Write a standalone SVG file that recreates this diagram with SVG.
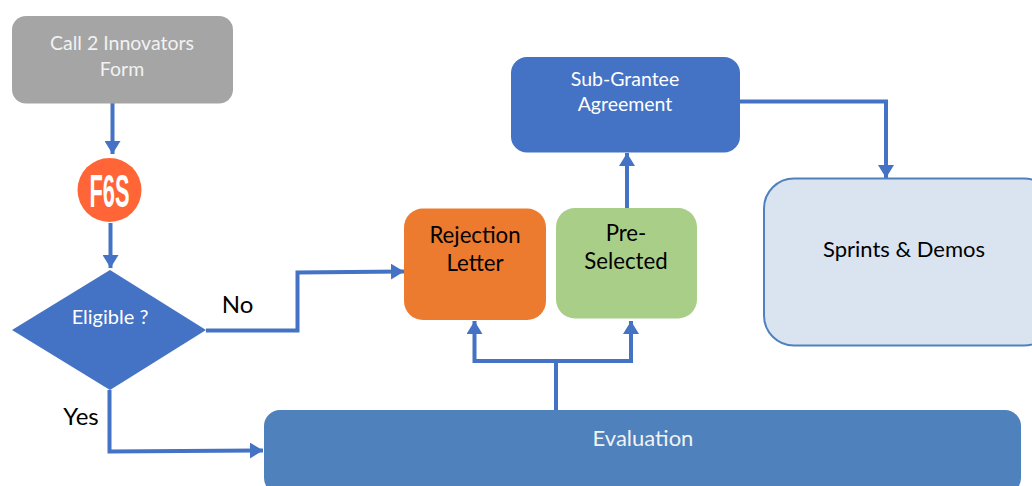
<svg xmlns="http://www.w3.org/2000/svg" width="1032" height="486" viewBox="0 0 1032 486">
<style>
text{font-family:"Lato","Open Sans","Liberation Sans",sans-serif;text-anchor:middle}
.w{fill:#fff;font-size:19.500px}
.wd{fill:#f2f2f2;font-size:19.500px}
.k{fill:#000;font-size:22.200px}
.l{fill:#000;font-size:24px}
.c{fill:none;stroke:#4472c4;stroke-width:4;marker-end:url(#a)}
.p{fill:none;stroke:#4472c4;stroke-width:4}
</style>
<defs>
<marker id="a" markerUnits="userSpaceOnUse" markerWidth="14" markerHeight="16" refX="13" refY="8" orient="auto"><path d="M0 0L13 8L0 16z" fill="#4472c4"/></marker>
</defs>
<rect width="1032" height="486" fill="#fff"/>
<g id="connectors">
<path class="c" d="M112.500 103V154"/>
<path class="c" d="M110.500 223V268"/>
<path class="c" d="M206 330.500H297.500V272.500L404 271.500"/>
<path class="c" d="M109.500 390V451.500L263 450.500"/>
<path class="p" d="M556 410V361"/>
<path class="c" d="M556 361H474.500V321"/>
<path class="c" d="M556 361H631V321"/>
<path class="c" d="M627 208V153"/>
<path class="c" d="M740 101.500H886V178"/>
</g>
<g id="form"><rect x="12" y="16" width="221" height="87.500" rx="14" fill="#a5a5a5"/>
<text class="wd" x="122" y="50">Call 2 Innovators</text><text class="wd" x="122" y="76">Form</text></g>
<g id="f6s"><circle cx="109.500" cy="190" r="32" fill="#ff6536"/>
<text x="109.500" y="207" font-size="47" font-weight="700" fill="#fff" textLength="40" lengthAdjust="spacingAndGlyphs" style="font-family:'Liberation Sans',sans-serif">F6S</text></g>
<g id="eligible"><path d="M110 270L206 330L110 390L12 330z" fill="#4472c4"/>
<text class="w" x="110" y="324" style="font-size:20px">Eligible ?</text></g>
<g id="label-no"><text class="l" x="237.500" y="312.500">No</text></g>
<g id="label-yes"><text class="l" x="81" y="425">Yes</text></g>
<g id="evaluation"><rect x="264" y="410" width="757" height="84" rx="16" fill="#4f81bd"/>
<text x="643" y="446" font-size="22" fill="#f2f2f2">Evaluation</text></g>
<g id="rejection"><rect x="404" y="208.500" width="142" height="111.500" rx="19" fill="#ec7a2f"/>
<text class="k" x="475" y="242.500">Rejection</text><text class="k" x="475" y="271">Letter</text></g>
<g id="preselected"><rect x="556" y="208" width="141" height="110.500" rx="19" fill="#a8ce88"/>
<text class="k" x="626" y="241">Pre-</text><text class="k" x="626" y="269">Selected</text></g>
<g id="subgrantee"><rect x="511" y="57" width="229" height="95.500" rx="16" fill="#4472c4"/>
<text class="w" x="625" y="85.500">Sub-Grantee</text><text class="w" x="625" y="110.500">Agreement</text></g>
<g id="sprints"><rect x="764" y="178.500" width="290" height="167" rx="30" fill="#dae3f0" stroke="#4f81bd" stroke-width="2"/>
<text x="904" y="257" fill="#000" font-size="22">Sprints &amp; Demos</text></g>
</svg>
